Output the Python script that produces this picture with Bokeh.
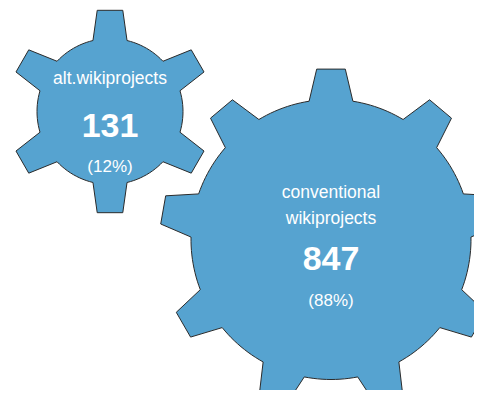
import math
from bokeh.plotting import figure
from bokeh.models import Range1d
from bokeh.core.properties import value
from bokeh.embed import file_html
from bokeh.resources import INLINE

# ---- data ----
categories = ["alt.wikiprojects", "conventional wikiprojects"]
label_lines = [["alt.wikiprojects"], ["conventional", "wikiprojects"]]
counts = [131, 847]
percents = [12, 88]

# ---- layout (picture pixel coordinates) ----
centers = [(109.5, 111.0), (330.5, 239.0)]
outer_r = [102.0, 171.0]
root_r = [73.0, 140.0]
n_teeth = [6, 9]
first_angle = [90.0, 90.0]
label_base = [[77.5], [191.0, 217.0]]
count_base = [125.0, 258.0]
pct_base = [165.5, 300.0]

FILL = "#56a3d0"
STROKE = "#2b2b2b"


def gear(cx, cy, R, r, n, a0):
    sp = 2 * math.pi / n
    hr = 0.225 * sp
    ht = 0.12 * sp
    xs, ys = [], []
    for k in range(n):
        a = math.radians(a0) + k * sp
        for ang, rad in ((a - hr, r), (a - ht, R), (a + ht, R), (a + hr, r)):
            xs.append(cx + rad * math.cos(ang))
            ys.append(cy - rad * math.sin(ang))
        start = a + hr
        end = a + sp - hr
        steps = 12
        for i in range(1, steps):
            ang = start + (end - start) * i / steps
            xs.append(cx + r * math.cos(ang))
            ys.append(cy - r * math.sin(ang))
    return xs, ys


p = figure(width=474, height=390, x_range=Range1d(0, 474), y_range=Range1d(390, 0),
           output_backend="svg", toolbar_location=None, min_border=0,
           outline_line_color=None)
p.axis.visible = False
p.grid.visible = False
p.background_fill_color = "white"
p.border_fill_color = "white"

gx, gy = [], []
for i in range(len(categories)):
    xs, ys = gear(centers[i][0], centers[i][1], outer_r[i], root_r[i], n_teeth[i], first_angle[i])
    gx.append(xs)
    gy.append(ys)

p.patches(gx, gy, fill_color=FILL, line_color=STROKE, line_width=1)

lx, ly, lt = [], [], []
for i in range(len(categories)):
    for j, line in enumerate(label_lines[i]):
        lx.append(centers[i][0])
        ly.append(label_base[i][j])
        lt.append(line)
p.text(lx, ly, text=lt, text_align="center", text_baseline="alphabetic",
       text_font=value("Liberation Sans"), text_font_size="17.5px", text_color="white")

cx_list = [c[0] for c in centers]
p.text(cx_list, count_base, text=[str(v) for v in counts], text_align="center",
       text_baseline="alphabetic", text_font=value("Liberation Sans"),
       text_font_size="34px", text_font_style="bold", text_color="white")
p.text(cx_list, pct_base, text=["(%d%%)" % v for v in percents], text_align="center",
       text_baseline="alphabetic", text_font=value("Liberation Sans"),
       text_font_size="17px", text_color="white")

open("out.html", "w").write(file_html(p, INLINE))
